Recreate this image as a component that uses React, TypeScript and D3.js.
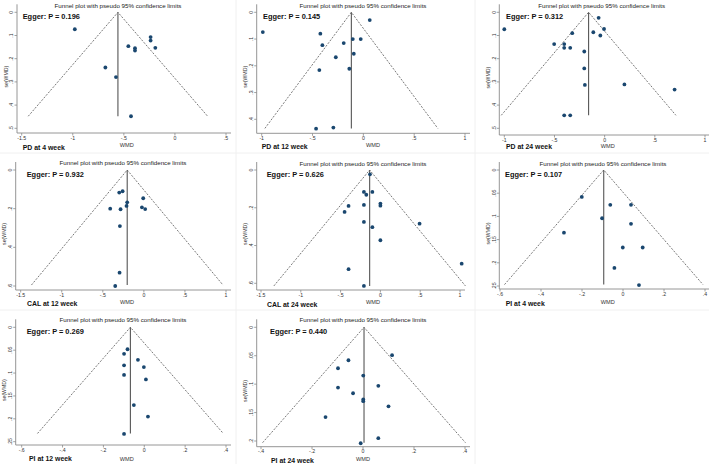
import { useRef, useEffect } from 'react';
import * as d3 from 'd3';

type Pt = [number, number]; // [WMD, se(WMD)]

const TITLE = 'Funnel plot with pseudo 95% confidence limits';

const LABELS = [
  'PD at 4 week', 'PD at 12 week', 'PD at 24 week',
  'CAL at 12 week', 'CAL at 24 week', 'PI at 4 week',
  'PI at 12 week', 'PI at 24 week',
];
const EGGER_P = ['0.196', '0.145', '0.312', '0.932', '0.626', '0.107', '0.269', '0.440'];
const POOLED = [-0.558, -0.118, -0.16, -0.203, -0.135, -0.094, -0.068, 0.004];
const SE_MAX = [0.448, 0.434, 0.444, 0.595, 0.614, 0.247, 0.232, 0.203];

const X_TICKS = [
  [-1.5, -1, -0.5, 0, 0.5],
  [-1, -0.5, 0, 0.5, 1],
  [-1, -0.5, 0, 0.5, 1],
  [-1.5, -1, -0.5, 0, 0.5, 1],
  [-1.5, -1, -0.5, 0, 0.5, 1],
  [-0.6, -0.4, -0.2, 0, 0.2, 0.4],
  [-0.6, -0.4, -0.2, 0, 0.2, 0.4],
  [-0.4, -0.2, 0, 0.2, 0.4],
];
const Y_TICKS = [
  [0, 0.1, 0.2, 0.3, 0.4, 0.5],
  [0, 0.1, 0.2, 0.3, 0.4],
  [0, 0.1, 0.2, 0.3, 0.4, 0.5],
  [0, 0.2, 0.4, 0.6],
  [0, 0.2, 0.4, 0.6],
  [0, 0.05, 0.1, 0.15, 0.2, 0.25],
  [0, 0.05, 0.1, 0.15, 0.2, 0.25],
  [0, 0.05, 0.1, 0.15, 0.2],
];

const PD_4W: Pt[] = [
  [-0.98, 0.073], [-0.238, 0.107], [-0.238, 0.122], [-0.456, 0.146], [-0.391, 0.155],
  [-0.391, 0.165], [-0.192, 0.153], [-0.681, 0.238], [-0.577, 0.279], [-0.43, 0.448],
];
const PD_12W: Pt[] = [
  [0.063, 0.029], [-0.989, 0.074], [-0.423, 0.08], [-0.403, 0.123], [-0.193, 0.115],
  [-0.104, 0.1], [-0.026, 0.1], [-0.094, 0.155], [-0.271, 0.168], [-0.433, 0.216],
  [-0.138, 0.211], [-0.465, 0.435], [-0.295, 0.431],
];
const PD_24W: Pt[] = [
  [-1.0, 0.073], [-0.06, 0.024], [-0.006, 0.072], [-0.113, 0.086], [-0.043, 0.1],
  [-0.323, 0.09], [-0.503, 0.137], [-0.403, 0.137], [-0.403, 0.153], [-0.343, 0.153],
  [-0.203, 0.169], [-0.203, 0.242], [-0.197, 0.313], [0.197, 0.311], [0.697, 0.333],
  [-0.403, 0.444], [-0.343, 0.444],
];
const CAL_12W: Pt[] = [
  [-0.259, 0.11], [-0.3, 0.117], [-0.203, 0.167], [-0.211, 0.186], [-0.41, 0.2],
  [-0.284, 0.203], [-0.008, 0.146], [-0.024, 0.193], [0.016, 0.202], [-0.292, 0.29],
  [-0.296, 0.531], [-0.349, 0.6],
];
const CAL_24W: Pt[] = [
  [-0.131, 0.023], [-0.207, 0.116], [-0.177, 0.131], [-0.101, 0.116], [-0.4, 0.19],
  [-0.207, 0.185], [-0.45, 0.222], [0.0, 0.178], [0.0, 0.189], [-0.207, 0.275],
  [-0.101, 0.303], [0.0, 0.372], [0.492, 0.284], [1.021, 0.496], [-0.4, 0.525],
  [-0.207, 0.614],
];
const PI_4W: Pt[] = [
  [-0.201, 0.058], [-0.062, 0.075], [0.039, 0.075], [-0.102, 0.104], [0.039, 0.116],
  [-0.288, 0.135], [-0.001, 0.167], [0.096, 0.167], [-0.042, 0.211], [0.078, 0.248],
];
const PI_12W: Pt[] = [
  [-0.082, 0.048], [-0.099, 0.058], [-0.031, 0.071], [-0.099, 0.083], [-0.002, 0.087],
  [-0.099, 0.104], [0.008, 0.114], [-0.051, 0.17], [0.018, 0.195], [-0.099, 0.233],
];
const PI_24W: Pt[] = [
  [0.114, 0.049], [-0.057, 0.058], [-0.098, 0.072], [0.001, 0.085], [-0.098, 0.106],
  [0.06, 0.103], [-0.039, 0.116], [0.001, 0.127], [0.001, 0.13], [0.1, 0.139],
  [-0.147, 0.158], [0.06, 0.195], [-0.009, 0.204],
];

const POINTS = [PD_4W, PD_12W, PD_24W, CAL_12W, CAL_24W, PI_4W, PI_12W, PI_24W];

// pixel layout of each panel: first/last x tick, first/last y tick, axis lines, text anchors
const LAYOUT = [
  { xr: [21.7, 226], yr: [12.3, 128.3], left: 17, bottom: 133, title: [118, 5], egger: [22.7, 16], label: [22.7, 147], wmd: [126.7, 144.5] },
  { xr: [261.7, 465], yr: [12.3, 119.3], left: 256.7, bottom: 133.3, title: [363, 5], egger: [263, 16], label: [261.7, 146], wmd: [373, 144.5] },
  { xr: [504.3, 705], yr: [12.3, 128.3], left: 499.3, bottom: 135, title: [601.7, 5], egger: [506, 16], label: [506, 146.5], wmd: [607.7, 145.5] },
  { xr: [20.7, 226], yr: [170, 286], left: 15.7, bottom: 290, title: [123, 162.7], egger: [26.7, 174], label: [27, 303.5], wmd: [127, 302] },
  { xr: [261, 460], yr: [170, 283.3], left: 256.7, bottom: 290, title: [363, 163], egger: [266.7, 174], label: [267, 304], wmd: [373, 302] },
  { xr: [500, 705], yr: [170, 286], left: 499.3, bottom: 289, title: [603, 163], egger: [505, 174], label: [505.7, 303], wmd: [607.7, 302] },
  { xr: [21.7, 226], yr: [327.3, 441.7], left: 15.7, bottom: 445, title: [123, 319.7], egger: [26.7, 331], label: [29, 458], wmd: [126.7, 459] },
  { xr: [261, 465], yr: [327.3, 441], left: 256.7, bottom: 446.7, title: [363, 319.7], egger: [270, 331], label: [271, 460], wmd: [363, 459] },
];

const FONT = '"Liberation Sans", Arial, sans-serif';
const fmt = (v: number) => {
  if (v === 0) return '0';
  const s = String(+v.toFixed(2));
  return s.replace(/^(-?)0\./, '$1.');
};

export default function App() {
  const ref = useRef<SVGSVGElement>(null);

  useEffect(() => {
    if (!ref.current) return;
    const svg = d3.select(ref.current);
    svg.selectAll('*').remove();

    svg.append('rect').attr('width', 709).attr('height', 464).attr('fill', '#fff');

    // faint panel separators
    [236, 475].forEach(xv => {
      svg.append('line').attr('x1', xv).attr('x2', xv).attr('y1', 0).attr('y2', 464)
        .attr('stroke', '#f0f0f0').attr('stroke-width', 1);
    });
    [153, 310].forEach(yv => {
      svg.append('line').attr('x1', 0).attr('x2', 709).attr('y1', yv).attr('y2', yv)
        .attr('stroke', '#f0f0f0').attr('stroke-width', 1);
    });

    POINTS.forEach((pts, i) => {
      const L = LAYOUT[i];
      const xt = X_TICKS[i];
      const yt = Y_TICKS[i];
      const x = d3.scaleLinear().domain([xt[0], xt[xt.length - 1]]).range(L.xr);
      const y = d3.scaleLinear().domain([yt[0], yt[yt.length - 1]]).range(L.yr);
      const g = svg.append('g').attr('font-family', FONT);

      const axisTop = L.yr[0] - 8;
      const axisRight = L.xr[1] + 5;

      // title
      g.append('text')
        .attr('x', L.title[0]).attr('y', L.title[1])
        .attr('text-anchor', 'middle').attr('dominant-baseline', 'central')
        .attr('font-size', 6.2).attr('fill', '#222')
        .text(TITLE);

      // axes lines
      g.append('line')
        .attr('x1', L.left).attr('x2', L.left).attr('y1', axisTop).attr('y2', L.bottom)
        .attr('stroke', '#8a8a8a').attr('stroke-width', 0.9);
      g.append('line')
        .attr('x1', L.left).attr('x2', axisRight).attr('y1', L.bottom).attr('y2', L.bottom)
        .attr('stroke', '#8a8a8a').attr('stroke-width', 0.9);

      // x ticks
      const xg = g.append('g').selectAll('g').data(xt).join('g')
        .attr('transform', d => `translate(${x(d)},${L.bottom})`);
      xg.append('line').attr('y2', 2.5).attr('stroke', '#8a8a8a').attr('stroke-width', 0.8);
      xg.append('text').attr('y', 6.8).attr('text-anchor', 'middle')
        .attr('font-size', 5.2).attr('fill', '#333').text(d => fmt(d));

      // y ticks (labels rotated)
      const yg = g.append('g').selectAll('g').data(yt).join('g')
        .attr('transform', d => `translate(${L.left},${y(d)})`);
      yg.append('line').attr('x2', -2.5).attr('stroke', '#8a8a8a').attr('stroke-width', 0.8);
      yg.append('text').attr('transform', 'rotate(-90)').attr('x', 0).attr('y', -3.6)
        .attr('text-anchor', 'middle').attr('font-size', 5.2).attr('fill', '#333')
        .text(d => fmt(d));

      // axis titles
      g.append('text')
        .attr('transform', `translate(${L.left - 11.5},${(L.yr[0] + L.bottom) / 2 + 4}) rotate(-90)`)
        .attr('text-anchor', 'middle').attr('dominant-baseline', 'central')
        .attr('font-size', 5.2).attr('fill', '#333')
        .text('se(WMD)');
      g.append('text')
        .attr('x', L.wmd[0]).attr('y', L.wmd[1])
        .attr('text-anchor', 'middle').attr('dominant-baseline', 'central')
        .attr('font-size', 5.6).attr('fill', '#333')
        .text('WMD');

      // funnel limits
      const pooled = POOLED[i];
      const seMax = SE_MAX[i];
      const funnel = d3.line<[number, number]>().x(d => x(d[0])).y(d => y(d[1]));
      g.append('path')
        .datum([[pooled - 1.96 * seMax, seMax], [pooled, 0], [pooled + 1.96 * seMax, seMax]] as [number, number][])
        .attr('d', funnel)
        .attr('fill', 'none').attr('stroke', '#555').attr('stroke-width', 0.8)
        .attr('stroke-dasharray', '2,1.4');

      // pooled estimate
      g.append('line')
        .attr('x1', x(pooled)).attr('x2', x(pooled))
        .attr('y1', y(0)).attr('y2', y(seMax))
        .attr('stroke', '#555').attr('stroke-width', 1.1);

      // studies
      g.append('g').selectAll('circle').data(pts).join('circle')
        .attr('cx', d => x(d[0])).attr('cy', d => y(d[1]))
        .attr('r', 1.9).attr('fill', '#1a476f');

      // Egger test and panel label
      g.append('text')
        .attr('x', L.egger[0]).attr('y', L.egger[1])
        .attr('dominant-baseline', 'central')
        .attr('font-size', 7.4).attr('font-weight', 'bold').attr('fill', '#111')
        .text(`Egger: P = ${EGGER_P[i]}`);
      g.append('text')
        .attr('x', L.label[0]).attr('y', L.label[1])
        .attr('dominant-baseline', 'central')
        .attr('font-size', 6.9).attr('font-weight', 'bold').attr('fill', '#111')
        .text(LABELS[i]);
    });
  }, []);

  return (
    <svg
      ref={ref}
      width={709}
      height={464}
      style={{ position: 'absolute', left: 0, top: 0 }}
    />
  );
}
